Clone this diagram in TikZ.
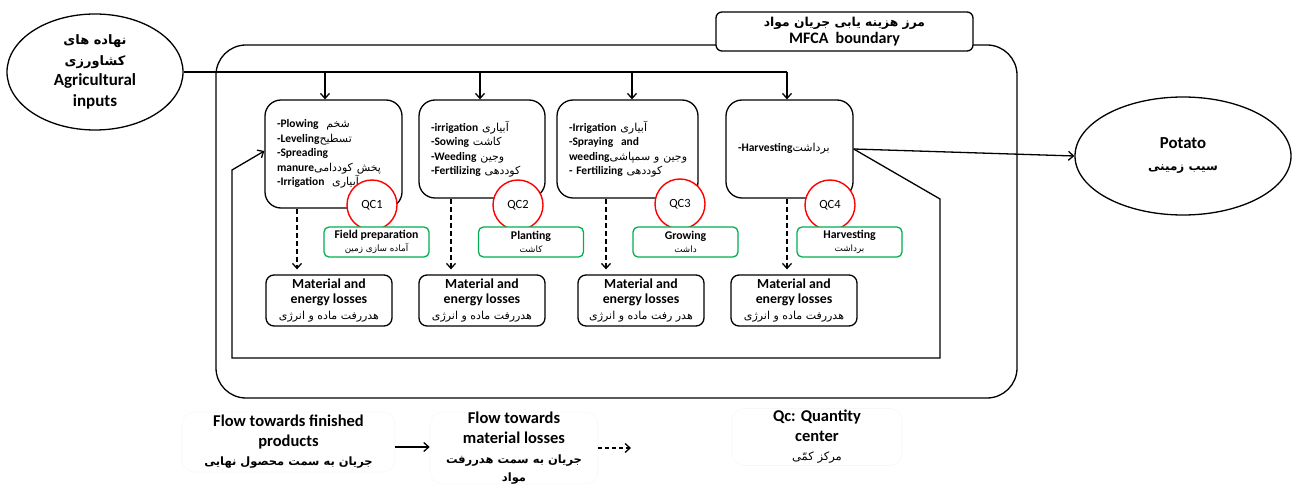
\documentclass[tikz,border=0pt]{standalone}
\usepackage{fontspec}
\setmainfont{Carlito}
\newfontfamily\persianfont[Script=Arabic]{DejaVu Sans}
\TeXXeTstate=1
\usetikzlibrary{arrows.meta,shapes.geometric}
% Persian text, regular and bold, kept on one line
\newcommand{\fr}[1]{\mbox{\persianfont\mdseries\fontsize{11}{12}\selectfont\beginR #1\endR}}
\newcommand{\frb}[1]{\mbox{\persianfont\bfseries\beginR #1\endR}}
\definecolor{stagegreen}{RGB}{0,176,80}
\begin{document}
\begin{tikzpicture}[x=1pt,y=-1pt,line width=1.3pt,
  arr/.style={-{Straight Barb[length=5pt,width=9pt]}},
  lossarrow/.style={arr,dashed,dash pattern=on 5pt off 3pt},
  procbox/.style={draw,rounded corners=16pt,align=left,inner xsep=12pt,inner ysep=0pt,
    font=\bfseries\fontsize{11.5}{14.5}\selectfont},
  qc/.style={circle,draw=red,fill=white,line width=1.4pt,minimum size=50pt,inner sep=0pt,
    font=\fontsize{12.5}{12.5}\selectfont},
  stagebox/.style={draw=stagegreen,fill=white,rounded corners=5pt,minimum width=105pt,
    minimum height=30pt,inner sep=0pt,align=center,font=\bfseries\fontsize{11.8}{13}\selectfont},
  lossbox/.style={draw,rounded corners=8pt,minimum width=126pt,minimum height=51pt,
    inner sep=0pt,align=center,font=\bfseries\fontsize{13.8}{15.5}\selectfont},
  legendbox/.style={draw=black!3,line width=0.6pt,rounded corners=12pt,inner sep=0pt,
    align=center,font=\bfseries\fontsize{16.5}{19.5}\selectfont}]
\useasboundingbox (0,0) rectangle (1293,486);

% MFCA boundary
\draw[rounded corners=30pt] (216,45) rectangle (1017,398);
\node[draw,fill=white,rounded corners=6pt,minimum width=257pt,minimum height=39pt,
  inner sep=0pt,align=center,font=\bfseries\fontsize{16}{18}\selectfont]
  (mfca) at (844.5,31.5) {\frb{\fontsize{12.3}{14}\selectfont مرز هزینه یابی جریان مواد}\\[-1pt] MFCA\ \ boundary};

% inputs and product
\node[ellipse,draw,minimum width=176pt,minimum height=116pt,inner sep=0pt,align=center,
  font=\bfseries\fontsize{17}{20.5}\selectfont]
  (inp) at (95,72) {\frb{\fontsize{13}{14}\selectfont نهاده های}\\ \frb{\fontsize{13}{14}\selectfont کشاورزی}\\ Agricultural\\ inputs};
\node[ellipse,draw,minimum width=216pt,minimum height=118pt,inner sep=0pt,align=center,
  font=\bfseries\fontsize{16.8}{22}\selectfont]
  (pot) at (1183,156) {Potato\\ \frb{\fontsize{12}{14}\selectfont سیب زمینی}};

% process stages
\node[procbox,text width=113pt,minimum height=108pt] (b1) at (333.5,154)
  {-Plowing\ \ \fr{شخم}\\ -Leveling\fr{تسطیح}\\ -Spreading\\ manure\fr{پخش کوددامی}\\ -Irrigation\ \ \fr{آبیاری}};
\node[procbox,text width=102pt,minimum height=98pt] (b2) at (482,149)
  {-irrigation \fr{آبیاری}\\ -Sowing \fr{کاشت}\\ -Weeding \fr{وجین}\\ -Fertilizing \fr{کوددهی}};
\node[procbox,text width=117pt,minimum height=98pt] (b3) at (627.5,149)
  {-Irrigation \fr{آبیاری}\\ -Spraying\ \ and\\ weeding\fr{وجین و سمپاشی}\\ - Fertilizing\ \fr{کوددهی}};
\node[procbox,text width=103pt,minimum height=98pt] (b4) at (789.5,149)
  {-Harvesting\fr{برداشت}};

% quantity centres
\node[qc] (qc1) at (372,205) {QC1};
\node[qc] (qc2) at (518,205) {QC2};
\node[qc] (qc3) at (680,204) {QC3};
\node[qc] (qc4) at (830,205) {QC4};

% stage labels
\node[stagebox] (s1) at (376.5,242) {Field preparation\\ \fr{\fontsize{8.8}{10}\selectfont آماده سازی زمین}};
\node[stagebox] (s2) at (531,242) {Planting\\ \fr{\fontsize{8.8}{10}\selectfont کاشت}};
\node[stagebox] (s3) at (685.5,242) {Growing\\ \fr{\fontsize{8.8}{10}\selectfont داشت}};
\node[stagebox] (s4) at (849.5,242) {Harvesting\\ \fr{\fontsize{8.8}{10}\selectfont برداشت}};

% losses
\node[lossbox] (l1) at (329,300.5) {Material and\\ energy losses\\ \fr{\fontsize{11}{11}\selectfont هدررفت ماده و انرژی}};
\node[lossbox] (l2) at (482,300.5) {Material and\\ energy losses\\ \fr{\fontsize{11}{11}\selectfont هدررفت ماده و انرژی}};
\node[lossbox] (l3) at (641,300.5) {Material and\\ energy losses\\ \fr{\fontsize{11}{11}\selectfont هدر رفت ماده و انرژی}};
\node[lossbox] (l4) at (794,300.5) {Material and\\ energy losses\\ \fr{\fontsize{11}{11}\selectfont هدررفت ماده و انرژی}};

% input distribution line
\coordinate (feed) at (787,72);
\draw (inp.east) -- (feed);
\draw[arr] (325,72) -- (b1.north -| 325,0);
\draw[arr] (480,72) -- (b2.north -| 480,0);
\draw[arr] (632,72) -- (b3.north -| 632,0);
\draw[arr] (feed) -- (b4.north -| feed);

% flows to losses
\draw[lossarrow] (b1.south -| 297,0) -- ([yshift=5pt]l1.north -| 297,0);
\draw[lossarrow] (b2.south -| 451,0) -- ([yshift=5pt]l2.north -| 451,0);
\draw[lossarrow] (b3.south -| 606,0) -- ([yshift=5pt]l3.north -| 606,0);
\draw[lossarrow] (b4.south -| 787,0) -- ([yshift=5pt]l4.north -| 787,0);

% product output and recycling loop
\draw[arr] (b4.east) -- (pot.west);
\draw[arr] (b4.east) -- (940,199) -- (940,358) -- (232,358) -- (232,170) -- ([yshift=3pt]b1.west);

% legend
\node[legendbox,minimum width=213pt,minimum height=60pt] (lga) at (288.5,442)
  {Flow towards finished\\ products\\ \frb{\fontsize{11.5}{14}\selectfont جریان به سمت محصول نهایی}};
\node[legendbox,minimum width=168pt,minimum height=60pt] (lgb) at (514,448)
  {Flow towards\\ material losses\\[1pt] \frb{\fontsize{11.5}{14}\selectfont جریان به سمت هدررفت}\\[-2pt] \frb{\fontsize{11.5}{14}\selectfont مواد}};
\node[legendbox,minimum width=170pt,minimum height=57pt] (lgc) at (817,437)
  {Qc: Quantity\\ center\\ \fr{\fontsize{11.5}{13}\selectfont مرکز کمّی}};
\coordinate (dl1) at (598,448);
\coordinate (dl2) at (631,448);
\draw[arr] (lga.east |- 0,447) -- (lgb.west |- 0,447);
\draw[lossarrow,dash pattern=on 4pt off 3pt] (dl1) -- (dl2);
\end{tikzpicture}
\end{document}
